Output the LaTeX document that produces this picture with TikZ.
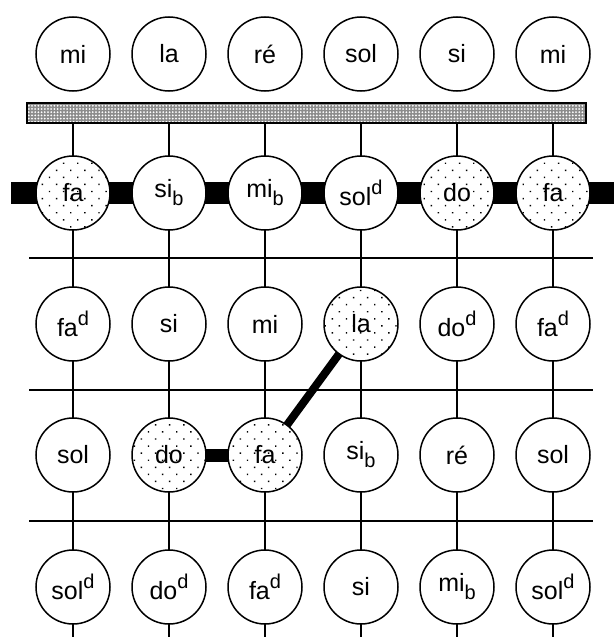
\documentclass[tikz,border=0pt]{standalone}
\usepackage{fontspec}
\setmainfont{Liberation Sans}
\usepackage{xcolor}
\definecolor{cInk}{HTML}{000000}
\definecolor{cBar}{HTML}{8C8C8C}
\usepackage{tikz}
\usetikzlibrary{positioning,patterns.meta,backgrounds}
\newcommand{\bemol}{\raisebox{-0.32em}{\fontsize{20}{20}\selectfont b}}
\newcommand{\diese}{\raisebox{0.42em}{\fontsize{20}{20}\selectfont d}}
\tikzset{
  node-note/.style={draw=cInk,line width=1.5pt,circle,minimum size=74pt,
    inner sep=0pt,fill=white,font=\fontsize{25}{30}\selectfont},
  node-plain/.style={},
  node-hit/.style={preaction={fill=white},
    pattern={Dots[distance=10pt,radius=1pt,angle=45]},pattern color=cInk},
  node-bar/.style={draw=cInk,line width=1.5pt,minimum width=559pt,
    minimum height=20pt,inner sep=0pt,preaction={fill=cBar},
    pattern={Dots[distance=3.2pt,radius=1pt]},pattern color=white},
  wire/.style={line width=1.6pt,draw=cInk},
  rule/.style={line width=1.6pt,draw=cInk},
  link-heavy/.style={line width=22pt,draw=cInk},
  link-light/.style={line width=13pt,draw=cInk},
  link-bold/.style={line width=8pt,draw=cInk},
}

\begin{document}
\begin{tikzpicture}[x=1pt,y=-1pt]
  \useasboundingbox (0,0) rectangle (614,637);
  \node[node-bar] at (306.5,113) (bar) {};
  \coordinate (edge-l) at (11,193);
  \coordinate (edge-r) at (614,193);
  \coordinate (bottom) at (0,637);
  % five rows of notes
  \foreach \lab/\hit [count=\c] in {mi/plain, la/plain, ré/plain, sol/plain, si/plain, mi/plain}
    \node[node-note,node-\hit] at ({73+96*(\c-1)},54) (n-1-\c) {\lab};
  \foreach \lab/\hit [count=\c] in {fa/hit, si\bemol/plain, mi\bemol/plain, sol\diese/plain, do/hit, fa/hit}
    \node[node-note,node-\hit] at ({73+96*(\c-1)},193) (n-2-\c) {\lab};
  \foreach \lab/\hit [count=\c] in {fa\diese/plain, si/plain, mi/plain, la/hit, do\diese/plain, fa\diese/plain}
    \node[node-note,node-\hit] at ({73+96*(\c-1)},324) (n-3-\c) {\lab};
  \foreach \lab/\hit [count=\c] in {sol/plain, do/hit, fa/hit, si\bemol/plain, ré/plain, sol/plain}
    \node[node-note,node-\hit] at ({73+96*(\c-1)},455) (n-4-\c) {\lab};
  \foreach \lab/\hit [count=\c] in {sol\diese/plain, do\diese/plain, fa\diese/plain, si/plain, mi\bemol/plain, sol\diese/plain}
    \node[node-note,node-\hit] at ({73+96*(\c-1)},587) (n-5-\c) {\lab};
  \begin{scope}[on background layer]
    \foreach \y in {258,390,521}
      \draw[rule] (29,\y) -- (593,\y);
    \foreach \c in {1,...,6} {
      \draw[wire] (bar.south -| n-2-\c) -- (n-2-\c.center);
      \foreach \r [evaluate=\r as \s using int(\r+1)] in {2,3,4}
        \draw[wire] (n-\r-\c.center) -- (n-\s-\c.center);
      \draw[wire] (n-5-\c.center) -- (n-5-\c |- bottom);
    }
    \draw[link-heavy] (edge-l) -- (n-2-1.center);
    \foreach \c [evaluate=\c as \d using int(\c+1)] in {1,...,5}
      \draw[link-heavy] (n-2-\c.center) -- (n-2-\d.center);
    \draw[link-heavy] (n-2-6.center) -- (edge-r);
    \draw[link-light] (n-4-2.center) -- (n-4-3.center);
    \draw[link-bold] (n-4-3.center) -- (n-3-4.center);
  \end{scope}
\end{tikzpicture}
\end{document}
